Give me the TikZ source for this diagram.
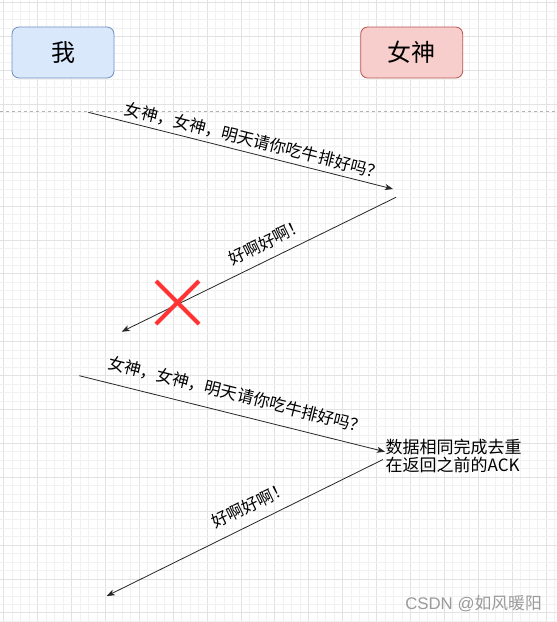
\documentclass[tikz,border=0pt]{standalone}
\usepackage{fontspec}
\setmainfont{Noto Sans CJK SC}
\newfontfamily\latinwm{Liberation Sans}
\usetikzlibrary{arrows.meta}
\definecolor{bluefill}{HTML}{DAE8FC}
\definecolor{blueline}{HTML}{6C8EBF}
\definecolor{redfill}{HTML}{F8CECC}
\definecolor{redline}{HTML}{B85450}
\definecolor{xred}{HTML}{FF3333}
\definecolor{minorg}{HTML}{F1F1F1}
\definecolor{majorg}{HTML}{E2E2E2}
\definecolor{wmark}{HTML}{9A9A9A}
\tikzset{
  minorgrid/.style={draw=minorg, line width=0.6pt},
  majorgrid/.style={draw=majorg, line width=0.8pt},
  actor/.style={rounded corners=7pt, line width=0.8pt, minimum width=102pt, minimum height=51pt, inner sep=0pt, font=\fontsize{24}{28}\selectfont},
  msg/.style={draw=black!85, line width=0.8pt, -{Stealth[length=8pt,width=6pt,inset=2pt]}},
  msglabel/.style={inner sep=0pt, font=\fontsize{16.6}{19}\selectfont},
  cross/.style={draw=xred, line width=4.2pt},
}
\begin{document}
\begin{tikzpicture}[x=1pt, y=-1pt]
\useasboundingbox (0,0) rectangle (557,622);
\fill[white] (0,0) rectangle (557,622);
\begin{scope}
\clip (0,0) rectangle (557,622);
\foreach \i in {0,...,65}{
  \pgfmathsetmacro\xx{3.6+8.475*\i}
  \pgfmathtruncatemacro\m{mod(\i,4)}
  \ifnum\m=0\relax
    \path[majorgrid] (\xx,0) -- (\xx,622);
  \else
    \path[minorgrid] (\xx,0) -- (\xx,622);
  \fi
}
\foreach \i in {0,...,73}{
  \pgfmathsetmacro\yy{2.6+8.475*\i}
  \pgfmathtruncatemacro\m{mod(\i,4)}
  \ifnum\m=0\relax
    \path[majorgrid] (0,\yy) -- (557,\yy);
  \else
    \path[minorgrid] (0,\yy) -- (557,\yy);
  \fi
}
\end{scope}

% actors
\node[actor, fill=bluefill, draw=blueline] (me) at (63,52.5) {我};
\node[actor, fill=redfill, draw=redline] (goddess) at (411.7,52.5) {女神};

% separator
\coordinate (sepL) at (0,111);
\coordinate (sepR) at (557,111);
\draw[draw=black!30, line width=0.7pt, dash pattern=on 3pt off 3pt] (sepL) -- (sepR);

% message 1
\coordinate (m1s) at (88.3,112.3);
\coordinate (m1e) at (393,189);
\draw[msg] (m1s) -- (m1e);
\node[msglabel, rotate=-14.1] (l1) at (254.2,140.8) {女神，女神，明天请你吃牛排好吗？};

% reply 1 (lost)
\coordinate (r1s) at (396,197.3);
\coordinate (r1e) at (121.7,331.7);
\draw[msg] (r1s) -- (r1e);
\node[msglabel, rotate=26.1] (l2) at (266.7,241.7) {好啊好啊！};

% red cross
\coordinate (xa) at (156,281);
\coordinate (xb) at (199,324);
\coordinate (xc) at (199,281);
\coordinate (xd) at (156,324);
\draw[cross] (xa) -- (xb);
\draw[cross] (xc) -- (xd);

% message 2 (retransmit)
\coordinate (m2s) at (79.3,375.7);
\coordinate (m2e) at (385,451.7);
\draw[msg] (m2s) -- (m2e);
\node[msglabel, rotate=-13.96] (l3) at (237.5,395) {女神，女神，明天请你吃牛排好吗？};

% note
\node[anchor=north west, inner sep=0pt, align=left, font=\fontsize{17}{18.7}\selectfont] (note) at (385.5,438.5) {数据相同完成去重\\在返回之前的ACK};

% reply 2
\coordinate (r2s) at (383,459.5);
\coordinate (r2e) at (106.7,596);
\draw[msg] (r2s) -- (r2e);
\node[msglabel, rotate=26.15] (l4) at (250,505) {好啊好啊！};

% watermark
\node[anchor=east, inner sep=0pt, text=wmark, font=\fontsize{16.8}{19}\selectfont] (wm) at (542,604) {{\latinwm CSDN @}如风暖阳};
\end{tikzpicture}
\end{document}
